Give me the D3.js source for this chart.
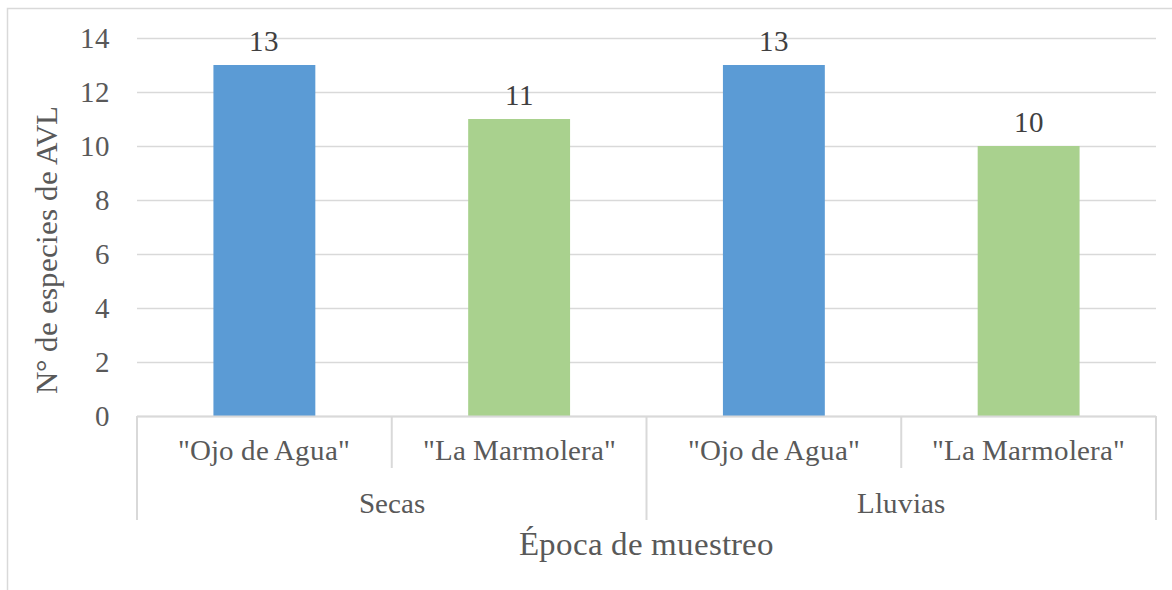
<!DOCTYPE html>
<html>
<head>
<meta charset="utf-8">
<script src="https://cdn.jsdelivr.net/npm/d3@7"></script>
<style>
  @font-face { font-family: "ChartSerif"; src: local("Liberation Serif"), local("LiberationSerif-Regular"), local("Tinos"), local("DejaVu Serif"); }
  body { margin: 0; background: #fff; }
</style>
</head>
<body>
<div class="chart"></div>
<script>
const W = 1172
const H = 590

// data
const sites = ['"Ojo de Agua"', '"La Marmolera"', '"Ojo de Agua"', '"La Marmolera"']
const seasons = ["Secas", "Lluvias"]
const values = [13, 11, 13, 10]
const yTicks = [0, 2, 4, 6, 8, 10, 12, 14]

const margin = ({top: 38, right: 16, bottom: 174, left: 137})
const width = W - margin.left - margin.right
const height = H - margin.top - margin.bottom

const fam = "ChartSerif"
const barColors = ["#5B9BD5", "#A9D18E", "#5B9BD5", "#A9D18E"]
const textColor = "#595959"
const gridColor = "#D9D9D9"

const svg = d3.select(".chart").append("svg")
    .attr("width", W)
    .attr("height", H)

const setFont = (sel, size) => sel
    .attr("font-size", size)
    .style("font-family", `'${fam}'`)

// outer chart frame
svg.append("rect")
    .attr("x", 7.5).attr("y", 8.5)
    .attr("width", W + 10).attr("height", H + 10)
    .attr("fill", "none")
    .attr("stroke", gridColor)
    .attr("stroke-width", 1.5)

const g = svg.append("g")
    .attr("transform", `translate(${margin.left},${margin.top})`)

const idx = d3.range(sites.length)

const xScale = d3.scaleBand()
    .domain(idx)
    .range([0, width])
    .paddingInner(0.6)
    .paddingOuter(0.3)

const yScale = d3.scaleLinear()
    .domain([0, 14])
    .range([height, 0])

const yAxis = d3.axisLeft(yScale)
    .tickValues(yTicks)
    .tickSize(-width)
    .tickPadding(27)

const ya = g.append("g")
    .attr("class", "y-axis")
    .call(yAxis)
ya.select(".domain").remove()
ya.selectAll(".tick line").attr("stroke", gridColor).attr("stroke-width", 1.5)
ya.selectAll(".tick text")
    .attr("fill", textColor)
    .attr("dy", "0.34em")
    .call(setFont, 29)

// bars
g.selectAll(".bar")
    .data(idx)
    .enter()
    .append("rect")
    .attr("class", "bar")
    .attr("x", i => xScale(i))
    .attr("y", i => yScale(values[i]))
    .attr("width", xScale.bandwidth())
    .attr("height", i => height - yScale(values[i]))
    .attr("fill", i => barColors[i])

// value labels
g.selectAll(".val")
    .data(idx)
    .enter()
    .append("text")
    .attr("x", i => xScale(i) + xScale.bandwidth() / 2)
    .attr("y", i => yScale(values[i]) - 14)
    .attr("text-anchor", "middle")
    .attr("fill", "#404040")
    .call(setFont, 29)
    .text(i => values[i])

// category axis
const step = xScale.step()
const edge = i => i * step
const xa = g.append("g").attr("transform", `translate(0,${height})`)

xa.append("line")
    .attr("x1", 0).attr("x2", width)
    .attr("y1", 0.5).attr("y2", 0.5)
    .attr("stroke", gridColor).attr("stroke-width", 2)

d3.range(sites.length + 1).forEach(i => {
    const groupEdge = i % 2 === 0
    xa.append("line")
        .attr("x1", edge(i)).attr("x2", edge(i))
        .attr("y1", 0).attr("y2", groupEdge ? 104 : 52)
        .attr("stroke", gridColor).attr("stroke-width", 2)
})

xa.selectAll(".cat")
    .data(idx)
    .enter()
    .append("text")
    .attr("x", i => xScale(i) + xScale.bandwidth() / 2)
    .attr("y", 44)
    .attr("text-anchor", "middle")
    .attr("fill", textColor)
    .call(setFont, 29)
    .text(i => sites[i])

xa.selectAll(".season")
    .data(seasons)
    .enter()
    .append("text")
    .attr("x", (d, i) => edge(i * 2) + step)
    .attr("y", 97)
    .attr("text-anchor", "middle")
    .attr("fill", textColor)
    .call(setFont, 29)
    .text(d => d)

// axis titles
svg.append("text")
    .attr("x", margin.left + width / 2)
    .attr("y", 555)
    .attr("text-anchor", "middle")
    .attr("fill", textColor)
    .call(setFont, 33)
    .text("Época de muestreo")

svg.append("text")
    .attr("transform", "translate(57,250) rotate(-90)")
    .attr("text-anchor", "middle")
    .attr("fill", textColor)
    .call(setFont, 31)
    .text("N° de especies de AVL")
</script>
</body>
</html>
